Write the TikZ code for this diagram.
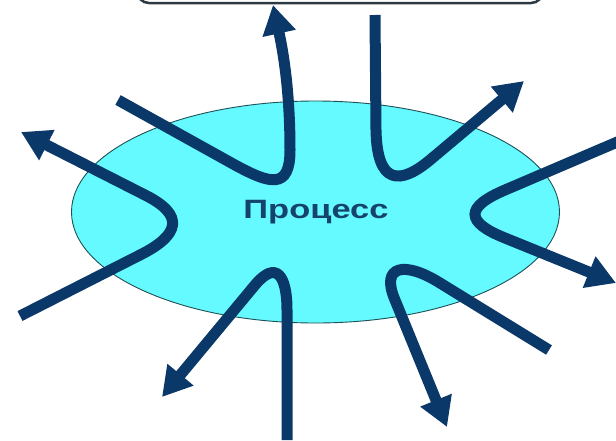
\documentclass[tikz,border=0pt]{standalone}
\usepackage{fontspec}
\setmainfont{Liberation Sans}
\usetikzlibrary{arrows.meta}
\definecolor{navy}{RGB}{10,56,104}
\definecolor{cyanfill}{RGB}{100,250,255}
\definecolor{rimcol}{RGB}{30,80,85}
\definecolor{txtcol}{RGB}{22,66,110}
\definecolor{boxcol}{RGB}{45,58,68}
\tikzset{
  flow/.style={draw=navy, line width=11pt, -{Triangle[length=29pt,width=32pt]}},
}
\begin{document}
\begin{tikzpicture}[x=1pt,y=-1pt]
\useasboundingbox (0,0) rectangle (616,440);
\clip (0,0) rectangle (616,440);
% top box edge
\draw[boxcol, line width=2.5pt, rounded corners=12pt, fill=white] (137,-40) rectangle (543,3);
% ellipse
\fill[cyanfill] (315.5,212) ellipse [x radius=244, y radius=111];
\draw[rimcol, line width=0.9pt] (315.5,212) ellipse [x radius=244, y radius=111];
\node[text=txtcol, anchor=base, inner sep=0pt, font=\bfseries\fontsize{26.5}{30}\selectfont] (proc) at (316,218.5) {\scalebox{1.3}[1]{Процесс}};
% arrows
\coordinate (a1s) at (118,100);
\coordinate (a1e) at (273,5);
\draw[flow] (a1s) -- (235,165) .. controls (270,184) and (290,190) .. (290,150)
  .. controls (290,100) and (285,60) .. (a1e);
\coordinate (a2s) at (375,15);
\coordinate (a2e) at (524,81);
\draw[flow] (a2s) -- (376,130) .. controls (377,185) and (400,185) .. (430,160) -- (a2e);
\coordinate (a3s) at (20,316);
\coordinate (a3e) at (21,132);
\draw[flow] (a3s) -- (140,255) .. controls (180,235) and (185,215) .. (145,195) -- (a3e);
\coordinate (a4s) at (622,140);
\coordinate (a4e) at (616,283);
\draw[flow] (a4s) -- (505,190) .. controls (465,207) and (465,222) .. (505,238) -- (a4e);
\coordinate (a5s) at (287,440);
\coordinate (a5e) at (162,397);
\draw[flow] (a5s) -- (287,310) .. controls (287,275) and (276,260) .. (255,285) -- (a5e);
\coordinate (a6s) at (549,350);
\coordinate (a6e) at (447,427);
\draw[flow] (a6s) -- (440,283) .. controls (405,261) and (380,265) .. (395,300) -- (a6e);
\end{tikzpicture}
\end{document}
